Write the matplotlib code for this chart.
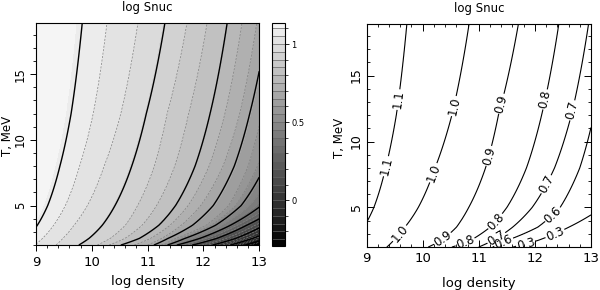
import numpy as np
import matplotlib
matplotlib.use("Agg")
import matplotlib.pyplot as plt
from matplotlib.ticker import MultipleLocator, FixedLocator, FuncFormatter

plt.rcParams["font.family"] = ["DejaVu Sans"]

# -------------------------------
# Data
# -------------------------------

# temperatures (MeV) where the contour positions were read
t_nodes = [2.0, 2.5, 3.5, 5.0, 8.0, 12.0, 19.0]

# contour levels of log Snuc and their log density position at each t_node
s_levels = [1.15, 1.1, 1.0, 0.9, 0.8, 0.7, 0.6, 0.3, 0.0, -0.3]
x_115 = [7.85, 8.00, 8.25, 8.45, 8.65, 8.82, 9.00]
x_110 = [8.60, 8.75, 8.95, 9.13, 9.34, 9.53, 9.72]
x_100 = [9.36, 9.48, 9.68, 9.92, 10.22, 10.52, 10.83]
x_090 = [10.10, 10.33, 10.60, 10.82, 11.12, 11.35, 11.71]
x_080 = [10.52, 10.85, 11.20, 11.50, 11.85, 12.12, 12.43]
x_070 = [11.00, 11.25, 11.60, 11.95, 12.35, 12.65, 12.96]
x_060 = [11.25, 11.50, 12.05, 12.45, 12.80, 13.05, 13.40]
x_030 = [11.60, 12.05, 12.60, 13.20, 13.80, 14.30, 14.80]
x_000 = [12.35, 12.75, 13.25, 13.90, 14.60, 15.10, 15.60]
x_m030 = [12.92, 13.30, 13.90, 14.50, 15.20, 15.70, 16.20]

# left panel: solid black levels, filled bands
left_solid = [-0.215, -0.07, 0.075, 0.22, 0.365, 0.51, 0.655, 0.8, 0.945, 1.09]
left_bands = list(np.round(np.arange(-0.30, 1.151, 0.05), 3))

# right panel: labelled levels and where the labels sit
right_levels = [0.3, 0.6, 0.7, 0.8, 0.9, 1.0, 1.1]
label_pos = [(9.2, 8.3), (9.53, 13.2),
             (9.53, 3.25), (10.21, 7.6), (10.54, 12.7),
             (10.36, 2.6), (11.19, 8.9), (11.37, 12.9),
             (10.75, 2.45), (11.31, 3.9), (12.17, 13.2),
             (11.3, 2.8), (12.24, 6.67), (12.68, 12.35),
             (11.45, 2.3), (12.33, 4.4),
             (11.85, 2.1), (12.33, 3.26)]

# -------------------------------
# Build the field on a grid
# -------------------------------

crossings = np.array([x_115, x_110, x_100, x_090, x_080,
                      x_070, x_060, x_030, x_000, x_m030])

xg = np.linspace(9, 13, 400)
tg = np.linspace(2, 18.9, 300)
Z = np.empty((len(tg), len(xg)))
for i, t in enumerate(tg):
    xs = [np.interp(np.log(t), np.log(t_nodes), row) for row in crossings]
    Z[i] = np.interp(xg, xs, s_levels)
X, Y = np.meshgrid(xg, tg)

# ==================================================
#                FIGURE
# ==================================================

fig = plt.figure(figsize=(6, 2.9), dpi=100)

ax1 = fig.add_axes([0.060, 0.155, 0.372, 0.766])
cax = fig.add_axes([0.453, 0.153, 0.022, 0.769])
ax2 = fig.add_axes([0.611, 0.148, 0.374, 0.769])

# ---------------------------------
# Left : filled contours
# ---------------------------------

lv = left_bands[:]
lv[0] = -0.31
lv[-1] = 1.16
cf = ax1.contourf(X, Y, Z, levels=lv, cmap="gray", vmin=-0.3, vmax=1.19)

dashed = [v for v in left_bands[1:-1]
          if min(abs(v - s) for s in left_solid) > 0.02]
ax1.contour(X, Y, Z, levels=dashed, colors="0.5", linewidths=0.5,
            linestyles=[(0, (3, 2))])
ax1.contour(X, Y, Z, levels=left_solid, colors="k", linewidths=1.0,
            linestyles="solid")

cb = fig.colorbar(cf, cax=cax, drawedges=True)
cb.dividers.set_color("0.4")
cb.dividers.set_linewidth(0.5)
cb.outline.set_linewidth(0.8)
cax.set_ylim(-0.3, 1.145)
cax.yaxis.set_major_locator(FixedLocator([0, 0.5, 1]))
cax.yaxis.set_minor_locator(FixedLocator(np.round(np.arange(-0.2, 1.11, 0.1), 2)))
cax.yaxis.set_major_formatter(FuncFormatter(lambda v, p: "%g" % v))
cax.tick_params(which="major", length=3, width=0.6, labelsize=6, pad=1.5)
cax.tick_params(which="minor", length=2, width=0.5)

ax1.set_xlim(9, 13)
ax1.set_ylim(2, 18.9)
ax1.tick_params(which="major", direction="out", length=4, width=0.7,
                labelsize=9.5)
ax1.tick_params(which="minor", direction="out", length=2.5, width=0.6)
ax1.tick_params(axis="x", pad=4)
ax1.tick_params(axis="y", pad=2.5, labelsize=8.5)

# ---------------------------------
# Right : labelled contour lines
# ---------------------------------

cs = ax2.contour(X, Y, Z, levels=right_levels, colors="k", linewidths=0.8)
ax2.clabel(cs, fmt="%.1f", fontsize=8.5, inline=True, inline_spacing=1,
           manual=label_pos)

ax2.set_xlim(9, 13)
ax2.set_ylim(2, 18.9)
ax2.tick_params(which="both", direction="in", top=True, right=True)
ax2.tick_params(which="major", length=5, width=0.7, labelsize=9.5)
ax2.tick_params(which="minor", length=2.5, width=0.6)
ax2.tick_params(axis="x", pad=3.5)
ax2.tick_params(axis="y", pad=2.5, labelsize=9)

# ---------------------------------
# Common axis styling
# ---------------------------------

for ax, xl_y, yl_x in [(ax1, -0.165, -0.128), (ax2, -0.162, -0.119)]:
    ax.xaxis.set_major_locator(MultipleLocator(1))
    ax.xaxis.set_minor_locator(MultipleLocator(0.2))
    ax.yaxis.set_major_locator(MultipleLocator(5))
    ax.yaxis.set_minor_locator(MultipleLocator(1))
    for lab in ax.get_yticklabels():
        lab.set_rotation(90)
        lab.set_va("center")
    for sp in ax.spines.values():
        sp.set_linewidth(0.8)
    ax.set_xlabel("log density", fontsize=9.5)
    ax.set_ylabel("T, MeV", fontsize=8.5)
    ax.xaxis.set_label_coords(0.5, xl_y)
    ax.xaxis.label.set_va("center")
    ax.yaxis.set_label_coords(yl_x, 0.49)
    ax.yaxis.label.set_va("center")
    ax.text(0.5, 1.07, "log Snuc", transform=ax.transAxes,
            ha="center", va="center", fontsize=8.5)

fig.savefig("out.png", dpi=100)
